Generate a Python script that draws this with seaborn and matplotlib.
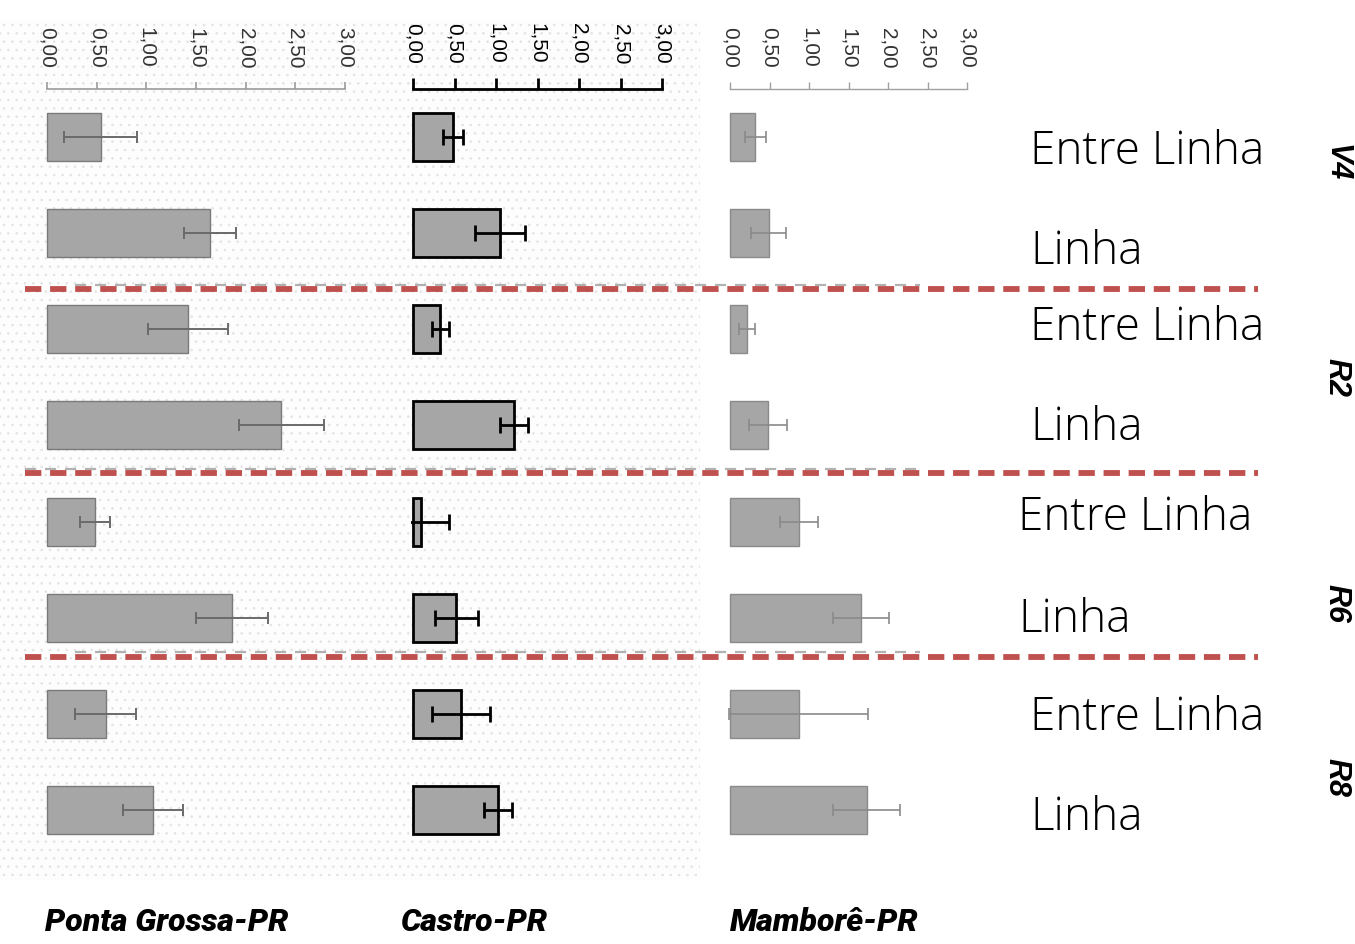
import matplotlib
matplotlib.use("Agg")
import matplotlib.pyplot as plt
from matplotlib.lines import Line2D
from matplotlib.patches import Rectangle
from matplotlib.ticker import FixedLocator, FuncFormatter
import numpy as np
import pandas as pd
import seaborn as sns

# --- data -------------------------------------------------------------
estadios = ["V4", "R2", "R6", "R8"]
posicoes = ["Entre Linha", "Linha"]
locais = ["Ponta Grossa-PR", "Castro-PR", "Mamborê-PR"]

ponta_grossa_media = [0.54, 1.64, 1.42, 2.36, 0.48, 1.86, 0.59, 1.07]
ponta_grossa_erro = [0.37, 0.26, 0.40, 0.43, 0.15, 0.36, 0.31, 0.30]
castro_media = [0.48, 1.05, 0.33, 1.22, 0.10, 0.52, 0.58, 1.02]
castro_erro = [0.12, 0.30, 0.10, 0.17, 0.33, 0.26, 0.35, 0.17]
mambore_media = [0.32, 0.49, 0.22, 0.48, 0.87, 1.66, 0.87, 1.73]
mambore_erro = [0.13, 0.22, 0.10, 0.24, 0.24, 0.35, 0.88, 0.42]

escala_ticks = [0.0, 0.5, 1.0, 1.5, 2.0, 2.5, 3.0]

rotulos = [f"{e} {p}" for e in estadios for p in posicoes]
medias = [ponta_grossa_media, castro_media, mambore_media]
erros = [ponta_grossa_erro, castro_erro, mambore_erro]

# --- figure -----------------------------------------------------------
W, H = 1355, 944
sns.set_theme(style="white")
plt.rcParams["font.family"] = ["Liberation Sans", "DejaVu Sans"]
plt.rcParams["hatch.linewidth"] = 0.6
fig = plt.figure(figsize=(W / 100, H / 100), dpi=100, facecolor="white")


def fx(px):
    return px / W


def fy(py):
    return 1 - py / H


# faint dotted backdrop behind the first two panels
fig.patches.append(Rectangle((fx(0), fy(880)), fx(700), fy(20) - fy(880),
                             transform=fig.transFigure, facecolor="#fdfdfd",
                             edgecolor="#e3e3e3", hatch="..", linewidth=0,
                             zorder=-5))

# panel styles: (x of 0.00, x of 3.00, bar edge, edge width, err colour, err width, cap, axis colour, axis width, label colour)
estilos = [
    (47, 345, "#7a7a7a", 1.0, "#6a6a6a", 1.4, 4, "#9a9a9a", 1.2, "#333333"),
    (413, 662, "#000000", 2.0, "#000000", 2.0, 6, "#000000", 2.0, "#000000"),
    (730, 967, "#8a8a8a", 1.0, "#8a8a8a", 1.2, 4, "#a0a0a0", 1.0, "#333333"),
]

pad = 0.03
topo, base = 89, 858
eixos = []
for i, (x0, x3, ec, elw, errc, errlw, cap, axc, axlw, labc) in enumerate(estilos):
    esc = (x3 - x0) / 3.0
    left = x0 - pad * esc
    ax = fig.add_axes([fx(left), fy(base), (3 + pad) * esc / W, (base - topo) / H])
    ax.set_facecolor("none")
    df = pd.DataFrame({"rotulo": rotulos, "valor": medias[i]})
    sns.barplot(data=df, x="valor", y="rotulo", order=rotulos, orient="h",
                color="#a6a6a6", saturation=1, width=0.5, edgecolor=ec,
                linewidth=elw, errorbar=None, ax=ax)
    yc = [p.get_y() + p.get_height() / 2 for p in ax.patches]
    ax.errorbar(medias[i], yc, xerr=erros[i], fmt="none", ecolor=errc,
                elinewidth=errlw, capsize=cap, capthick=errlw, zorder=3)
    ax.set_xlim(-pad, 3.0)
    ax.set_ylim(7.5, -0.5)
    ax.set_xlabel("")
    ax.set_ylabel("")
    ax.set_yticks([])
    for s in ["left", "right", "bottom"]:
        ax.spines[s].set_visible(False)
    ax.spines["top"].set_visible(True)
    ax.spines["top"].set_bounds(0, 3)
    ax.spines["top"].set_color(axc)
    ax.spines["top"].set_linewidth(axlw)
    ax.xaxis.tick_top()
    ax.xaxis.set_major_locator(FixedLocator(escala_ticks))
    ax.xaxis.set_major_formatter(FuncFormatter(lambda v, _: f"{v:.2f}".replace(".", ",")))
    ax.tick_params(axis="x", direction="out", length=8 if i == 1 else 5,
                   width=axlw, colors=axc, labelcolor=labc, labelsize=15,
                   labelrotation=-90, pad=10)
    eixos.append(ax)

# red dashed separators between phenological stages
for ysep in [289, 473, 657]:
    fig.add_artist(Line2D([fx(25), fx(1258)], [fy(ysep), fy(ysep)],
                          transform=fig.transFigure, color="#c0504d",
                          linewidth=4.2, linestyle=(0, (2.8, 1.5)),
                          solid_capstyle="butt", zorder=4))
# faint grey echoes above the separators
for ysep, xa in [(285, 75), (469, 25), (652, 75)]:
    fig.add_artist(Line2D([fx(xa), fx(920)], [fy(ysep), fy(ysep)],
                          transform=fig.transFigure, color="#7f7f7f",
                          linewidth=1.6, alpha=0.6, linestyle=(0, (5, 4)),
                          zorder=3))

# row labels on the right
rot_y = [152, 252, 328, 428, 518, 620, 718, 818]
rot_x = [1030, 1030, 1030, 1030, 1018, 1018, 1030, 1030]
for k, r in enumerate(rotulos):
    texto = posicoes[k % 2]
    fig.text(fx(rot_x[k]), fy(rot_y[k]), texto, ha="left", va="center",
             fontsize=33, family=["Open Sans", "DejaVu Sans"], fontweight="light",
             color="#000000")

# stage labels
for e, ye in zip(estadios, [163, 377, 603, 778]):
    fig.text(fx(1336), fy(ye), e, ha="center", va="center", rotation=-90,
             fontsize=22, fontweight="bold", fontstyle="italic",
             family=["Liberation Sans", "DejaVu Sans"], color="#000000")

# site names under the panels
for nome, xl in zip(locais, [45, 400, 730]):
    fig.text(fx(xl), fy(922), nome, ha="left", va="center", fontsize=23,
             fontweight="heavy", fontstyle="italic",
             family=["Roboto", "DejaVu Sans"], color="#000000")

fig.savefig("out.png", dpi=100, facecolor="white")
